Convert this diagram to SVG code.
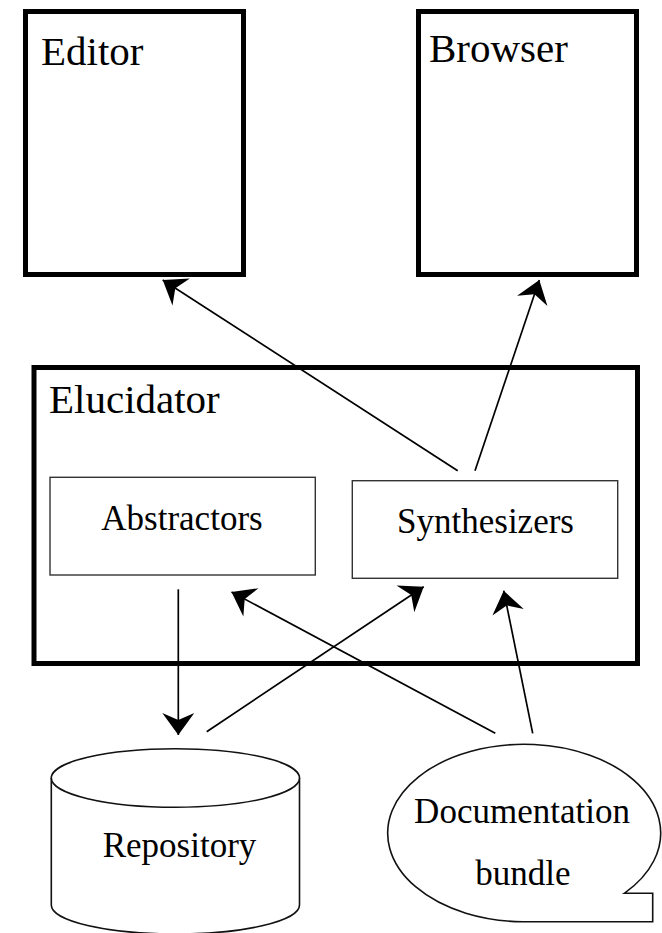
<svg xmlns="http://www.w3.org/2000/svg" width="662" height="933" viewBox="0 0 662 933">
<style>
.big{fill:#fff;stroke:#000;stroke-width:5}
.small{fill:#fff;stroke:#333;stroke-width:1.4}
.shape{fill:#fff;stroke:#111;stroke-width:1.6}
.t{font-family:"Liberation Serif","Times New Roman",serif;fill:#000}
.t41{font-size:41px}
.t35{font-size:35px;text-anchor:middle}
.c{fill:none;stroke:#000;stroke-width:1.7}
</style>
<defs>
<marker id="ah" markerUnits="userSpaceOnUse" markerWidth="30" markerHeight="36" viewBox="-24 -18 26 36" refX="0" refY="0" orient="auto">
<path d="M0,0 L-22,-16 L-15,0 L-22,16 Z" fill="#000"/>
</marker>
</defs>
<rect width="662" height="933" fill="#fff"/>
<g id="editor">
<rect class="big" x="25.5" y="11.5" width="218" height="263"/>
<text class="t t41" x="41" y="65">Editor</text>
</g>
<g id="browser">
<rect class="big" x="418.5" y="11.5" width="218" height="263"/>
<text class="t t41" x="429" y="62">Browser</text>
</g>
<g id="elucidator">
<rect class="big" x="34" y="367.5" width="603.5" height="296"/>
<text class="t t41" x="49" y="413">Elucidator</text>
</g>
<g id="abstractors">
<rect class="small" x="50" y="477.3" width="265.3" height="97.7"/>
<text class="t t35" x="182" y="530">Abstractors</text>
</g>
<g id="synthesizers">
<rect class="small" x="352.3" y="480.7" width="265.4" height="97.6"/>
<text class="t t35" x="485.5" y="533">Synthesizers</text>
</g>
<g id="repository">
<path class="shape" d="M51.3,778 L51.3,905 A124.1,29 0 0 0 299.5,905 L299.5,778"/>
<ellipse class="shape" cx="175.4" cy="778" rx="124.1" ry="29.3"/>
<text class="t t35" x="179.5" y="857">Repository</text>
</g>
<g id="documentation-bundle">
<path class="shape" d="M624.3,893.3 A136.5,88.7 0 1 0 522.5,921.7 L652.7,921.7 L652.7,893.3 Z"/>
<text class="t t35" x="522" y="823">Documentation</text>
<text class="t t35" x="523" y="885">bundle</text>
</g>
<g id="connectors">
<line class="c" x1="457.7" y1="470.7" x2="162.7" y2="280" marker-end="url(#ah)"/>
<line class="c" x1="475" y1="470.7" x2="539.3" y2="280" marker-end="url(#ah)"/>
<line class="c" x1="178.3" y1="589.3" x2="178.3" y2="735" marker-end="url(#ah)"/>
<line class="c" x1="206.7" y1="731.7" x2="423.7" y2="586.7" marker-end="url(#ah)"/>
<line class="c" x1="495.3" y1="733.3" x2="231.5" y2="592" marker-end="url(#ah)"/>
<line class="c" x1="532.7" y1="733.3" x2="503.7" y2="590.7" marker-end="url(#ah)"/>
</g>
</svg>
